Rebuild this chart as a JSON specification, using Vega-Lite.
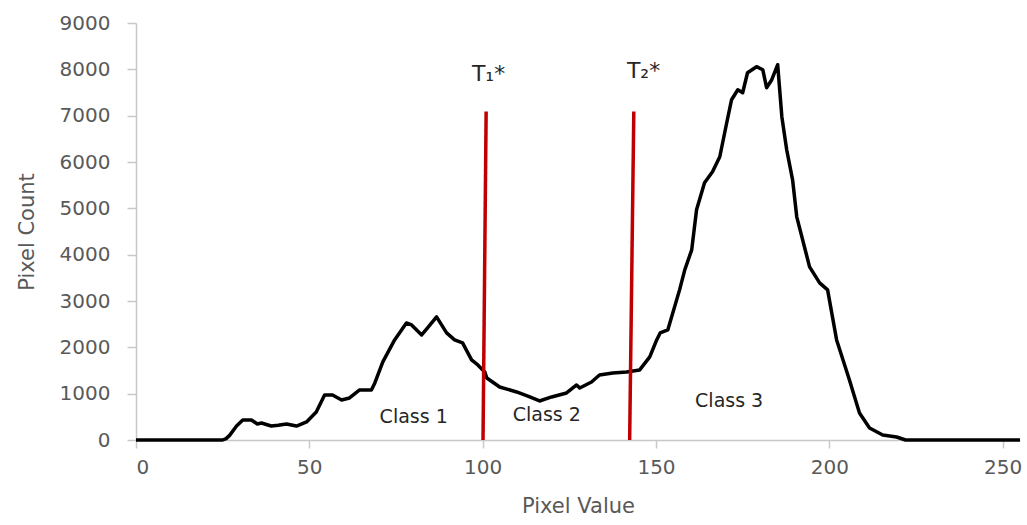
{
  "$schema": "https://vega.github.io/schema/vega-lite/v6.json",
  "width": 884,
  "height": 417,
  "autosize": {"type": "none"},
  "padding": {"left": 136, "top": 23, "right": 7, "bottom": 85},
  "background": "white",
  "config": {
    "view": {"stroke": null},
    "font": "DejaVu Sans",
    "axis": {
      "grid": false,
      "domainColor": "#c8c8c8",
      "domainWidth": 1.5,
      "tickColor": "#c8c8c8",
      "tickWidth": 1.5,
      "labelColor": "#595959",
      "labelFont": "DejaVu Sans",
      "labelFontSize": 20,
      "titleColor": "#595959",
      "titleFont": "DejaVu Sans",
      "titleFontSize": 21,
      "titleFontWeight": "normal"
    }
  },
  "datasets": {
    "hist": [
      {"v": 0, "c": 0}, {"v": 25, "c": 0}, {"v": 26, "c": 30}, {"v": 27, "c": 100},
      {"v": 29, "c": 302}, {"v": 30.8, "c": 432}, {"v": 33.3, "c": 432}, {"v": 35, "c": 346},
      {"v": 36.2, "c": 367}, {"v": 39, "c": 302}, {"v": 41, "c": 320}, {"v": 43.4, "c": 346},
      {"v": 46.3, "c": 302}, {"v": 49.2, "c": 389}, {"v": 52, "c": 605}, {"v": 54.4, "c": 972},
      {"v": 56.7, "c": 972}, {"v": 59.3, "c": 864}, {"v": 61.6, "c": 907}, {"v": 64.5, "c": 1080},
      {"v": 67.9, "c": 1080}, {"v": 68.9, "c": 1231}, {"v": 71.2, "c": 1685}, {"v": 74.6, "c": 2160},
      {"v": 78, "c": 2527}, {"v": 79.5, "c": 2484}, {"v": 82.4, "c": 2268}, {"v": 84.1, "c": 2419},
      {"v": 86.7, "c": 2657}, {"v": 89.6, "c": 2311}, {"v": 91.9, "c": 2160}, {"v": 94.2, "c": 2095},
      {"v": 96.8, "c": 1728}, {"v": 98.6, "c": 1620}, {"v": 100.6, "c": 1469}, {"v": 101.2, "c": 1339},
      {"v": 104.9, "c": 1145}, {"v": 109.8, "c": 1037}, {"v": 113.6, "c": 929}, {"v": 116.4, "c": 842},
      {"v": 119.9, "c": 929}, {"v": 124.2, "c": 1015}, {"v": 127.1, "c": 1188}, {"v": 128, "c": 1123},
      {"v": 131.4, "c": 1253}, {"v": 133.7, "c": 1404}, {"v": 137.5, "c": 1447}, {"v": 141.5, "c": 1469},
      {"v": 145.3, "c": 1512}, {"v": 148.2, "c": 1793}, {"v": 150.2, "c": 2160}, {"v": 151.2, "c": 2311},
      {"v": 153.4, "c": 2376}, {"v": 156.8, "c": 3240}, {"v": 158.3, "c": 3672}, {"v": 160.3, "c": 4104},
      {"v": 161.7, "c": 4968}, {"v": 164, "c": 5551}, {"v": 166.3, "c": 5789}, {"v": 168.4, "c": 6113},
      {"v": 170.4, "c": 6847}, {"v": 171.8, "c": 7344}, {"v": 173.6, "c": 7560}, {"v": 175, "c": 7495},
      {"v": 176.4, "c": 7927}, {"v": 179, "c": 8057}, {"v": 180.8, "c": 7992}, {"v": 181.9, "c": 7603},
      {"v": 183.4, "c": 7776}, {"v": 185.1, "c": 8100}, {"v": 186.3, "c": 6977}, {"v": 187.7, "c": 6264},
      {"v": 189.4, "c": 5616}, {"v": 190.6, "c": 4817}, {"v": 194.3, "c": 3737}, {"v": 197.2, "c": 3391},
      {"v": 199.5, "c": 3240}, {"v": 202.1, "c": 2160}, {"v": 205.8, "c": 1296}, {"v": 208.7, "c": 583},
      {"v": 211.6, "c": 259}, {"v": 215.4, "c": 108}, {"v": 219.4, "c": 65}, {"v": 222, "c": 0},
      {"v": 255, "c": 0}
    ],
    "thresholds": [
      {"x0": 100.1, "x1": 101.0, "y0": 0, "y1": 7090, "label": "T₁*", "lx": 101.7, "ly": 7905},
      {"x0": 142.4, "x1": 143.6, "y0": 0, "y1": 7090, "label": "T₂*", "lx": 146.4, "ly": 7970}
    ],
    "classes": [
      {"name": "Class 1", "x": 80.1, "y": 497},
      {"name": "Class 2", "x": 118.5, "y": 540},
      {"name": "Class 3", "x": 171.1, "y": 842}
    ]
  },
  "layer": [
    {
      "data": {"name": "hist"},
      "mark": {"type": "line", "color": "black", "strokeWidth": 3.5, "strokeJoin": "round"},
      "encoding": {
        "x": {"field": "v", "type": "quantitative", "title": "Pixel Value",
              "scale": {"domain": [0, 255], "nice": false, "zero": false},
              "axis": {"values": [0, 50, 100, 150, 200, 250], "format": "d", "tickSize": 8, "labelPadding": 9, "titlePadding": 18}},
        "y": {"field": "c", "type": "quantitative", "title": "Pixel Count",
              "scale": {"domain": [0, 9000], "nice": false},
              "axis": {"values": [0, 1000, 2000, 3000, 4000, 5000, 6000, 7000, 8000, 9000], "format": "d", "tickSize": 9, "labelPadding": 17, "titlePadding": 22}}
      }
    },
    {
      "data": {"name": "thresholds"},
      "mark": {"type": "rule", "color": "#c00000", "strokeWidth": 3.5},
      "encoding": {
        "x": {"field": "x0", "type": "quantitative"},
        "x2": {"field": "x1"},
        "y": {"field": "y0", "type": "quantitative"},
        "y2": {"field": "y1"}
      }
    },
    {
      "data": {"name": "thresholds"},
      "mark": {"type": "text", "fontSize": 22, "color": "#262626", "font": "DejaVu Sans", "align": "center", "baseline": "middle"},
      "encoding": {
        "x": {"field": "lx", "type": "quantitative"},
        "y": {"field": "ly", "type": "quantitative"},
        "text": {"field": "label"}
      }
    },
    {
      "data": {"name": "classes"},
      "mark": {"type": "text", "fontSize": 19, "color": "#262626", "font": "DejaVu Sans", "align": "center", "baseline": "middle"},
      "encoding": {
        "x": {"field": "x", "type": "quantitative"},
        "y": {"field": "y", "type": "quantitative"},
        "text": {"field": "name"}
      }
    }
  ]
}
